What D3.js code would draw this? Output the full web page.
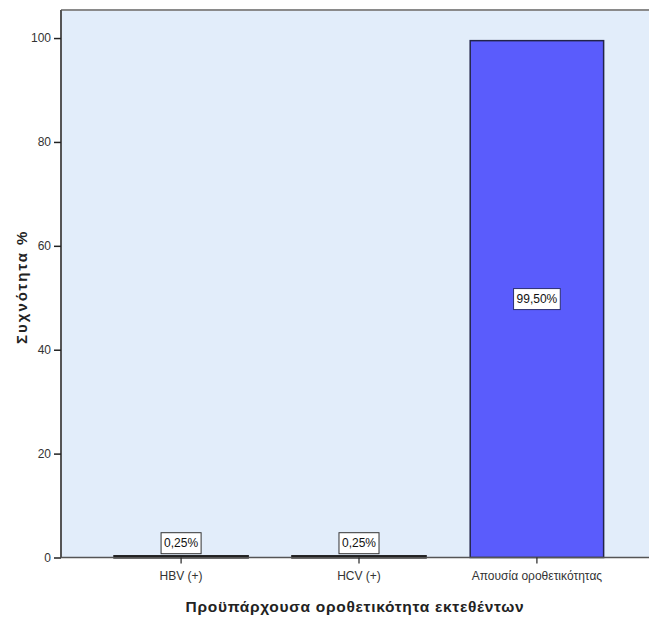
<!DOCTYPE html>
<html>
<head>
<meta charset="utf-8">
<script src="https://cdn.jsdelivr.net/npm/d3@7"></script>
<style>
  body { margin: 0; background: #fff; }
  svg { display: block; font-family: "Liberation Sans", Arial, sans-serif; }
</style>
</head>
<body>
<div id="chart"></div>
<script>
// data
const categories = ['HBV (+)', 'HCV (+)', 'Απουσία οροθετικότητας'];
const percents = [0.25, 0.25, 99.5];
const barLabels = ['0,25%', '0,25%', '99,50%'];
const yTicks = [0, 20, 40, 60, 80, 100];
const yTitle = 'Συχνότητα %';
const xTitle = 'Προϋπάρχουσα οροθετικότητα εκτεθέντων';

const width = 649, height = 620;
const plot = { left: 61, top: 10, right: 649, bottom: 557.5 };

const svg = d3.select('#chart').append('svg')
    .attr('width', width)
    .attr('height', height);

const x = d3.scaleBand()
    .domain(categories)
    .range([plot.left, 657])
    .paddingInner(0.25)
    .paddingOuter(0.3);

const y = d3.scaleLinear()
    .domain([0, 105.4])
    .range([plot.bottom, plot.top]);

// plot background
svg.append('rect')
    .attr('x', plot.left)
    .attr('y', plot.top)
    .attr('width', plot.right - plot.left)
    .attr('height', plot.bottom - plot.top)
    .attr('fill', '#e2edfa');

// top border
svg.append('line')
    .attr('x1', plot.left).attr('x2', plot.right)
    .attr('y1', plot.top).attr('y2', plot.top)
    .attr('stroke', '#8a8a8a').attr('stroke-width', 2);

// bars
const body = svg.append('g').attr('class', 'body');
body.selectAll('rect.bar')
    .data(categories)
    .enter()
    .append('rect')
    .attr('class', 'bar')
    .attr('x', d => x(d))
    .attr('width', x.bandwidth())
    .attr('y', (d, i) => y(percents[i]))
    .attr('height', (d, i) => y(0) - y(percents[i]))
    .attr('fill', '#5a5cfc')
    .attr('stroke', (d, i) => percents[i] > 10 ? '#22244a' : '#111')
    .attr('stroke-width', (d, i) => percents[i] > 10 ? 1.5 : 2.2);

// y axis
const yAxis = svg.append('g')
    .attr('transform', 'translate(' + plot.left + ',0)')
    .call(d3.axisLeft(y).tickValues(yTicks).tickSize(7).tickPadding(3).tickSizeOuter(0));
yAxis.select('.domain').attr('stroke', '#555').attr('stroke-width', 2)
    .attr('d', 'M0,' + plot.top + 'V' + plot.bottom);
yAxis.selectAll('.tick line').attr('stroke', '#222').attr('stroke-width', 1.5);
yAxis.selectAll('.tick text')
    .attr('fill', '#333')
    .style('font-size', '12px');

// x axis
const xAxis = svg.append('g')
    .attr('transform', 'translate(0,' + plot.bottom + ')')
    .call(d3.axisBottom(x).tickSize(6).tickPadding(8).tickSizeOuter(0));
xAxis.select('.domain').attr('stroke', '#555').attr('stroke-width', 1.5)
    .attr('d', 'M' + plot.left + ',0H' + plot.right);
xAxis.selectAll('.tick line').attr('stroke', '#222').attr('stroke-width', 1.2);
xAxis.selectAll('.tick text')
    .attr('fill', '#333')
    .style('font-size', '12px');

// value labels
const labelG = svg.append('g').attr('class', 'labels');
categories.forEach(function (c, i) {
    const cx = x(c) + x.bandwidth() / 2;
    const big = percents[i] > 10;
    const cy = big ? (y(percents[i]) + y(0)) / 2 : y(percents[i]) - 13;
    const g = labelG.append('g').attr('transform', 'translate(' + cx + ',' + cy + ')');
    const t = g.append('text')
        .attr('text-anchor', 'middle')
        .attr('dy', '0.35em')
        .attr('fill', '#111')
        .style('font-size', '12px')
        .text(barLabels[i]);
    const w = t.node().getComputedTextLength() + 6;
    g.insert('rect', 'text')
        .attr('x', -w / 2).attr('y', -10.5)
        .attr('width', w).attr('height', 21)
        .attr('fill', '#fff')
        .attr('stroke', big ? '#2b2f70' : '#333')
        .attr('stroke-width', 1);
});

// axis titles
svg.append('text')
    .attr('transform', 'translate(27,' + ((plot.top + plot.bottom) / 2 + 3) + ') rotate(-90)')
    .attr('text-anchor', 'middle')
    .attr('fill', '#222')
    .style('font-size', '15px')
    .style('font-weight', 'bold')
    .style('letter-spacing', '2px')
    .text(yTitle);

svg.append('text')
    .attr('x', (plot.left + plot.right) / 2)
    .attr('y', 612)
    .attr('text-anchor', 'middle')
    .attr('fill', '#222')
    .style('font-size', '15.5px')
    .style('font-weight', 'bold')
    .style('letter-spacing', '0.7px')
    .text(xTitle);
</script>
</body>
</html>
